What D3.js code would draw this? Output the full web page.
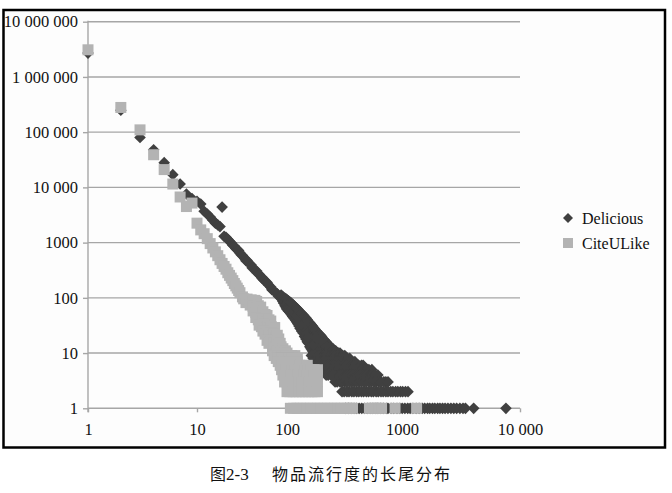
<!DOCTYPE html>
<html>
<head>
<meta charset="utf-8">
<script src="https://cdn.jsdelivr.net/npm/d3@7"></script>
<style>
body { margin: 0; background: #fff; }
</style>
</head>
<body>
<div id="chart"></div>
<script>
// Tick values and their labels for the two log axes.
let xTicks = [1, 10, 100, 1000, 10000];
let xTickLabels = ["1", "10", "100", "1000", "10 000"];
let yTicks = [1, 10, 100, 1000, 10000, 100000, 1000000, 10000000];
let yTickLabels = ["1", "10", "100", "1000", "10 000", "100 000", "1 000 000", "10 000 000"];

let seriesNames = ["Delicious", "CiteULike"];

// Delicious: [popularity, number of items].
let deliciousHead = [
    [1, 2700000], [2, 250000], [3, 80000], [4, 48000], [5, 28000], [6, 17000], [7, 11500],
    [8, 7600], [9, 6300], [10, 5600], [11, 5000], [12, 3700], [13, 3300], [14, 2900],
    [15, 2550], [16, 2250], [17, 2100], [18, 1950], [19, 4400], [20, 1300], [21, 1250],
    [22, 1150], [23, 1060], [24, 980], [25, 900], [26, 860], [27, 780], [28, 745], [29, 720],
    [30, 650], [31, 600], [32, 585], [34, 515], [35, 470], [36, 475], [38, 420], [40, 392],
    [41, 350], [43, 335], [46, 305], [47, 280], [49, 265], [52, 242], [53, 225], [55, 212],
    [58, 198], [60, 190], [62, 172], [66, 157], [68, 140], [70, 137], [75, 125], [78, 118],
    [80, 108], [84, 104]
];

let deliciousMid = [
    [86, 112], [86, 100], [88, 108], [88, 96], [90, 104], [90, 86], [92, 100], [92, 90], [92, 80],
    [95, 98], [95, 84], [95, 72], [98, 95], [98, 78], [98, 66], [100, 92], [100, 76], [100, 62],
    [103, 88], [103, 70], [103, 58], [106, 84], [106, 66], [106, 54], [109, 80], [109, 62], [109, 50],
    [112, 76], [112, 58], [112, 46], [115, 72], [115, 55], [115, 43], [118, 68], [118, 52], [118, 40],
    [121, 65], [121, 48], [121, 37], [124, 62], [124, 45], [124, 34], [127, 58], [127, 42], [127, 31],
    [130, 55], [130, 40], [130, 28], [134, 52], [134, 36], [134, 25], [138, 49], [138, 33], [138, 23],
    [142, 46], [142, 30], [142, 20], [146, 43], [146, 28], [146, 18], [150, 40], [150, 26], [150, 16],
    [154, 37], [154, 24], [154, 15], [158, 35], [158, 22], [158, 13], [162, 33], [162, 20], [162, 12],
    [166, 31], [166, 19], [166, 11], [170, 29], [170, 17], [170, 10], [175, 27], [175, 16], [175, 12],
    [180, 25], [180, 15], [180, 11], [185, 23], [185, 14], [185, 10], [190, 22], [190, 13], [195, 21],
    [195, 12], [200, 20], [200, 14], [200, 11], [206, 18], [206, 13], [206, 10], [212, 17], [212, 12],
    [218, 16], [218, 11], [224, 15], [224, 10], [230, 14], [230, 11], [237, 13], [237, 10], [244, 12],
    [251, 12], [251, 10], [258, 11], [265, 11], [273, 10], [281, 10], [289, 10],
    [152, 19], [168, 14], [178, 19], [188, 17], [198, 16], [210, 15], [220, 13], [234, 12], [248, 11]
];

// Low counts: [count, popularities that have that count].
let deliciousLow = [
    [9, [163, 171, 180, 188, 197, 208, 217, 229, 239, 252, 264, 277, 293, 304, 318]],
    [8, [169, 177, 186, 197, 205, 217, 226, 240, 249, 264, 274, 291, 303, 322, 334, 351]],
    [7, [180, 187, 198, 206, 219, 228, 241, 251, 266, 277, 293, 305, 323, 337, 356, 371, 389]],
    [6, [191, 203, 211, 224, 233, 247, 257, 272, 284, 301, 314, 331, 346, 366, 380, 402, 419, 444, 459]],
    [5, [206, 214, 227, 236, 250, 260, 275, 287, 303, 316, 334, 349, 368, 384, 406, 422, 447, 466, 494, 515, 547]],
    [4, [219, 228, 241, 251, 266, 277, 293, 306, 323, 337, 356, 372, 392, 410, 432, 452, 477, 497, 526, 548, 582, 617]],
    [3, [262, 273, 289, 301, 318, 332, 351, 366, 386, 403, 425, 445, 470, 490, 519, 541, 572, 596, 630, 657, 695, 724, 756]],
    [2, [301, 314, 332, 346, 366, 382, 403, 421, 444, 464, 490, 512, 541, 564, 596, 622, 657, 686, 724, 756,
         798, 833, 880, 920, 970, 1013, 1070, 1124]],
    [1, [322, 343, 361, 383, 402, 424, 447, 471, 498, 528, 558, 593, 618, 654, 688, 731, 755, 803, 848, 905,
         958, 1004, 1058, 1118, 1172, 1238, 1318, 1396, 1483, 1557, 1646, 1718, 1812, 1897, 2004, 2096, 2206,
         2318, 2452, 2597, 2748, 2905, 3095, 3290, 3450, 4050, 7600]]
];

// CiteULike: [popularity, number of items].
let citeHead = [
    [1, 3100000], [2, 280000], [3, 110000], [4, 39000], [5, 21000], [6, 11500], [7, 6700],
    [8, 4500], [9, 5200], [10, 2250], [11, 1700], [12, 1450], [13, 1180], [14, 960], [15, 800],
    [16, 680], [17, 580], [18, 490], [19, 420], [20, 370], [21, 330], [22, 285], [23, 255],
    [24, 228], [25, 205], [26, 182], [27, 165], [28, 150], [29, 136], [30, 124], [32, 104],
    [33, 96], [35, 82]
];

let citeMid = [
    [36, 95], [38, 88], [40, 92], [42, 84], [44, 90], [46, 86],
    [39, 74], [42, 70], [45, 66], [48, 72], [51, 68],
    [42, 58], [45, 54], [48, 50], [51, 52], [54, 56], [57, 50], [60, 48],
    [45, 44], [48, 40], [51, 42], [54, 38], [57, 41], [60, 37], [63, 40], [66, 38],
    [49, 32], [52, 30], [55, 33], [58, 29], [61, 31], [64, 28], [67, 30], [70, 27], [73, 29],
    [54, 25], [57, 22], [60, 24], [63, 21], [66, 23], [69, 20], [72, 22], [75, 19], [78, 21], [81, 18],
    [60, 17], [63, 15], [66, 16], [69, 14], [72, 15], [75, 13], [78, 16], [81, 14], [84, 15], [86, 13],
    [69, 11], [72, 12], [75, 10], [78, 11], [81, 12], [84, 10], [87, 11], [90, 12], [92, 10], [96, 11], [100, 10]
];

let citeLow = [
    [9, [72, 76, 80, 84, 88, 93, 98, 104, 110, 117]],
    [8, [76, 80, 84, 89, 94, 99, 105, 111, 117, 123]],
    [7, [80, 85, 90, 95, 101, 107, 114, 123]],
    [6, [84, 89, 94, 100, 107, 114, 121, 129, 138, 150]],
    [5, [87, 92, 98, 104, 111, 118, 126, 134, 143, 152, 162, 172, 184]],
    [4, [90, 96, 102, 109, 116, 124, 132, 141, 150, 160, 171, 184]],
    [3, [94, 100, 106, 113, 120, 128, 136, 145, 155, 165, 176, 184]],
    [2, [100, 106, 113, 120, 128, 136, 145, 155, 165, 175, 184]],
    [1, [107, 114, 122, 131, 140, 150, 161, 172, 184, 197, 211, 226, 242, 259, 277, 296, 317, 339, 356, 371,
         521, 556, 592, 630, 664, 870, 1330]]
];

// Turn the count rows into plain [x, y] points.
function flatten(head, mid, low) {
    let pts = head.concat(mid);
    low.forEach(function (row) {
        row[1].forEach(function (v) { pts.push([v, row[0]]); });
    });
    return pts;
}

let deliciousData = flatten(deliciousHead, deliciousMid, deliciousLow);
let citeData = flatten(citeHead, citeMid, citeLow);

let width = 672,
    height = 493;

let gridColor = "#a6a6a6",
    darkColor = "#404040",
    lightColor = "#b3b3b3",
    serif = "'Liberation Serif', 'Times New Roman', serif";

// The scanned axis is not evenly spaced, so the log scale is piecewise.
let x = d3.scaleLog().domain(xTicks).range([88, 197, 287, 402, 520]);
let y = d3.scaleLog().domain([1, 10000000]).range([408.3, 21.7]);

let svg = d3.select("#chart").append("svg")
    .attr("width", width)
    .attr("height", height);

// Frame round the chart.
svg.append("rect")
    .attr("x", 3.5)
    .attr("y", 10)
    .attr("width", 661.5)
    .attr("height", 437.5)
    .attr("fill", "#fdfdfd")
    .attr("stroke", "#000")
    .attr("stroke-width", 2.5);

// Horizontal grid lines.
svg.append("g")
    .selectAll("line")
    .data(yTicks)
    .enter().append("line")
    .attr("x1", x(1))
    .attr("x2", x(10000))
    .attr("y1", function (d) { return y(d); })
    .attr("y2", function (d) { return y(d); })
    .attr("stroke", gridColor)
    .attr("stroke-width", 1.4);

// Y axis.
let yAxis = svg.append("g")
    .attr("transform", "translate(" + x(1) + ",0)")
    .call(d3.axisLeft(y)
        .tickValues(yTicks)
        .tickFormat(function (d, i) { return yTickLabels[i]; })
        .tickSize(5)
        .tickSizeOuter(0)
        .tickPadding(5));

// X axis.
let xAxis = svg.append("g")
    .attr("transform", "translate(0," + y(1) + ")")
    .call(d3.axisBottom(x)
        .tickValues(xTicks)
        .tickFormat(function (d, i) { return xTickLabels[i]; })
        .tickSize(4)
        .tickSizeOuter(0)
        .tickPadding(11));

[xAxis, yAxis].forEach(function (a) {
    a.select(".domain").remove();
    a.selectAll("line").attr("stroke", gridColor).attr("stroke-width", 1.4);
    a.selectAll("text")
        .attr("fill", "#111")
        .style("font-family", serif)
        .style("font-size", "16.5px");
});

// Vertical axis line, running a little past the bottom.
svg.append("line")
    .attr("x1", x(1))
    .attr("x2", x(1))
    .attr("y1", y(10000000) - 1)
    .attr("y2", y(1) + 4)
    .attr("stroke", gridColor)
    .attr("stroke-width", 1.4);

let diamond = d3.symbol().type(d3.symbolSquare).size(68);
let square = d3.symbol().type(d3.symbolSquare).size(121);

// Delicious diamonds first, CiteULike squares on top.
svg.append("g")
    .selectAll("path")
    .data(deliciousData)
    .enter().append("path")
    .attr("d", diamond)
    .attr("transform", function (d) {
        return "translate(" + x(d[0]) + "," + y(d[1]) + ") rotate(45)";
    })
    .attr("fill", darkColor);

svg.append("g")
    .selectAll("path")
    .data(citeData)
    .enter().append("path")
    .attr("d", square)
    .attr("transform", function (d) {
        return "translate(" + x(d[0]) + "," + y(d[1]) + ")";
    })
    .attr("fill", lightColor);

// Legend.
let legend = svg.append("g")
    .attr("transform", "translate(568,218)");

legend.append("path")
    .attr("d", d3.symbol().type(d3.symbolSquare).size(50))
    .attr("transform", "rotate(45)")
    .attr("fill", darkColor);

legend.append("path")
    .attr("d", d3.symbol().type(d3.symbolSquare).size(100))
    .attr("transform", "translate(0,25)")
    .attr("fill", lightColor);

legend.selectAll("text")
    .data(seriesNames)
    .enter().append("text")
    .attr("x", 14)
    .attr("y", function (d, i) { return i * 25 + 5.5; })
    .attr("fill", "#111")
    .style("font-family", serif)
    .style("font-size", "16px")
    .text(function (d) { return d; });

// Caption under the frame.
let caption = svg.append("text")
    .attr("y", 480)
    .attr("fill", "#111")
    .style("font-size", "16px");

caption.append("tspan")
    .attr("x", 210)
    .style("font-family", "'Noto Sans CJK SC'")
    .text("图");

caption.append("tspan")
    .style("font-family", serif)
    .style("font-size", "17px")
    .text("2-3");

caption.append("tspan")
    .attr("x", 272)
    .style("font-family", "'Noto Sans CJK SC'")
    .style("letter-spacing", "2px")
    .text("物品流行度的长尾分布");
</script>
</body>
</html>
